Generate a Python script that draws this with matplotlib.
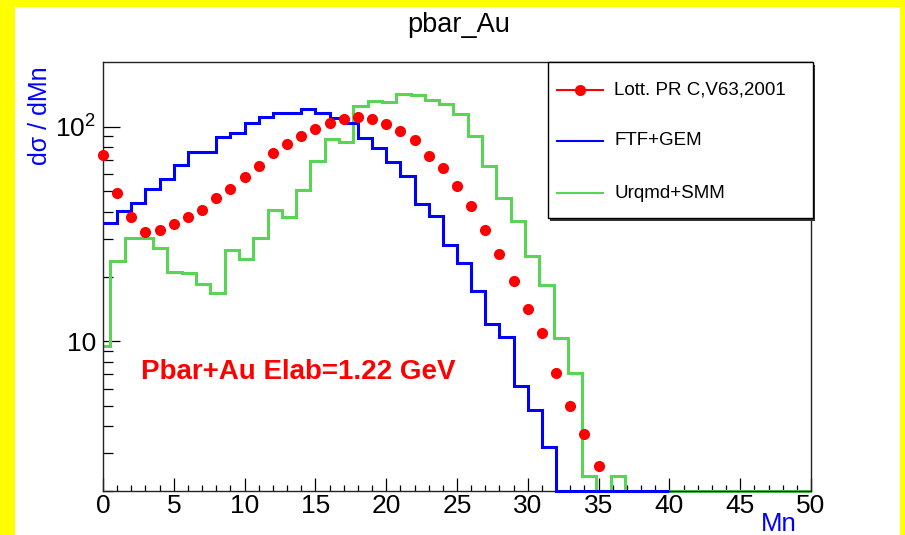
import numpy as np
import matplotlib
matplotlib.use("Agg")
import matplotlib.pyplot as plt
from matplotlib.patches import Rectangle
from matplotlib.lines import Line2D
from matplotlib.ticker import FixedLocator, FixedFormatter, MultipleLocator

plt.rcParams['font.family'] = ['Liberation Sans', 'DejaVu Sans']

# FTF+GEM, bins of width 1 from 0 to 40
ftf_gem = [35.6, 40.2, 43.9, 50.9, 56.7, 66.4, 75.8, 75.8, 89.8, 93.4,
           104.4, 110.6, 116.3, 116.3, 120.5, 116.3, 109.8, 104.4, 88.6, 79.5,
           68.1, 58.9, 43.4, 38.4, 28.1, 23.1, 17.1, 12.0, 10.5, 6.2,
           4.76, 3.2, 0, 0, 0, 0, 0, 0, 0, 0]

# Urqmd+SMM, 50 bins from -0.5 to 50
urqmd_smm = [9.5, 23.6, 30.1, 30.1, 27.3, 21.1, 20.7, 18.4, 16.8, 26.6,
             24.1, 30.1, 40.8, 37.7, 50.8, 69.4, 87.6, 85.1, 124.4, 131.3,
             129.9, 142.2, 140.7, 133.3, 127.6, 114.6, 90.8, 65.7, 46.5, 36.1,
             24.8, 18.3, 10.3, 7.1, 2.34, 0, 2.34, 0, 0, 0,
             0, 0, 0, 0, 0, 0, 0, 0, 0, 0]

# Lott. PR C,V63,2001 data points
lott_mn = list(range(36))
lott_val = [73.8, 48.8, 37.7, 32.1, 32.9, 35.1, 37.7, 40.9, 46.5, 51.2,
            58.4, 65.7, 75.4, 83.0, 90.5, 97.2, 103.6, 109.0, 110.5, 108.6,
            103.0, 95.1, 86.7, 72.6, 63.9, 53.0, 42.7, 32.9, 25.6, 19.1,
            14.1, 10.9, 7.08, 5.0, 3.69, 2.62]

YMIN, YMAX = 2.0, 200.0
GREEN = '#59d454'

fig = plt.figure(figsize=(9.05, 5.35), dpi=100, facecolor='#ffff00')
# white canvas inside the yellow border
fig.patches.append(Rectangle((15 / 905, 0), 885 / 905, 528 / 535,
                             transform=fig.transFigure, facecolor='white',
                             edgecolor='none', zorder=-10))

ax = fig.add_axes([103 / 905, 44 / 535, 708 / 905, 429 / 535])
ax.set_zorder(1)
ax.set_yscale('log')
ax.set_xlim(0, 50)
ax.set_ylim(YMIN, YMAX)

# histograms; empty bins are drawn on the frame bottom like ROOT does
blue_edges = np.arange(len(ftf_gem) + 1, dtype=float)
blue_vals = np.where(np.array(ftf_gem) > 0, ftf_gem, YMIN)
ax.stairs(blue_vals, blue_edges, baseline=None, color='#0000ff', lw=2.2,
          clip_on=False, zorder=3)

green_edges = np.clip(-0.5 + 1.01 * np.arange(len(urqmd_smm) + 1), 0, 50)
green_vals = np.where(np.array(urqmd_smm) > 0, urqmd_smm, YMIN)
ax.stairs(green_vals, green_edges, baseline=None, color=GREEN, lw=2.2,
          clip_on=False, zorder=2)

ax.plot(lott_mn, lott_val, 'o', color='#ff0000', ms=7, mec='#ff0000',
        zorder=4, clip_on=False)

# ticks, ROOT style
ax.yaxis.set_major_locator(FixedLocator([10, 100]))
ax.yaxis.set_major_formatter(FixedFormatter(['10', r'$\mathdefault{10^{2}}$']))
ax.yaxis.set_minor_locator(FixedLocator([2, 3, 4, 5, 6, 7, 8, 9,
                                         20, 30, 40, 50, 60, 70, 80, 90]))
ax.yaxis.set_minor_formatter(FixedFormatter([]))
ax.xaxis.set_major_locator(MultipleLocator(5))
ax.xaxis.set_minor_locator(MultipleLocator(1))
ax.tick_params(axis='both', which='both', direction='in', top=False,
               right=False, width=0.9, colors='black', labelsize=19)
ax.tick_params(axis='y', which='major', length=12, pad=5)
ax.tick_params(axis='y', which='minor', length=7)
ax.tick_params(axis='x', which='major', length=9.5, pad=2)
ax.tick_params(axis='x', which='minor', length=4.5)
for sp in ax.spines.values():
    sp.set_linewidth(1.0)
    sp.set_color('#222222')

# titles
fig.text(459 / 905, 1 - 25 / 535, 'pbar_Au', ha='center', va='center',
         fontsize=19.5)
fig.text(40 / 905, 1 - 66 / 535, 'd\u03c3 / dMn', rotation=90, ha='center',
         va='top', fontsize=18, color='#0000ff')
fig.text(797 / 905, 1 - 524 / 535, 'Mn', ha='right', va='center',
         fontsize=18.5, color='#0000ff')

ax.text(0.053, 0.277, 'Pbar+Au Elab=1.22 GeV', transform=ax.transAxes,
        color='#ff0000', fontsize=20, fontweight='bold', va='center')

# legend box drawn by hand to match ROOT TLegend (with its small shadow)
tr = ax.transAxes
ax.add_patch(Rectangle((0.6313, 0.6294), 0.3743, 0.3636, transform=tr,
                       facecolor='#333333', edgecolor='none',
                       zorder=4.9, clip_on=False))
ax.add_patch(Rectangle((0.6285, 0.6364), 0.3743, 0.3636, transform=tr,
                       facecolor='white', edgecolor='black', lw=1.0,
                       zorder=5, clip_on=False))
entries = [('Lott. PR C,V63,2001', '#ff0000', 0.9347),
           ('FTF+GEM', '#0000ff', 0.8159),
           ('Urqmd+SMM', GREEN, 0.6946)]
for label, col, yy in entries:
    ax.add_line(Line2D([0.6412, 0.7062], [yy, yy], transform=tr, color=col,
                       lw=1.5, zorder=6, clip_on=False))
    ax.text(0.7218, yy, label, transform=tr, fontsize=13.5, va='center',
            ha='left', zorder=6)
ax.plot([0.6737], [0.9347], 'o', transform=tr, color='#ff0000', ms=7,
        zorder=7, clip_on=False)

fig.savefig('out.png', dpi=100, facecolor=fig.get_facecolor())
